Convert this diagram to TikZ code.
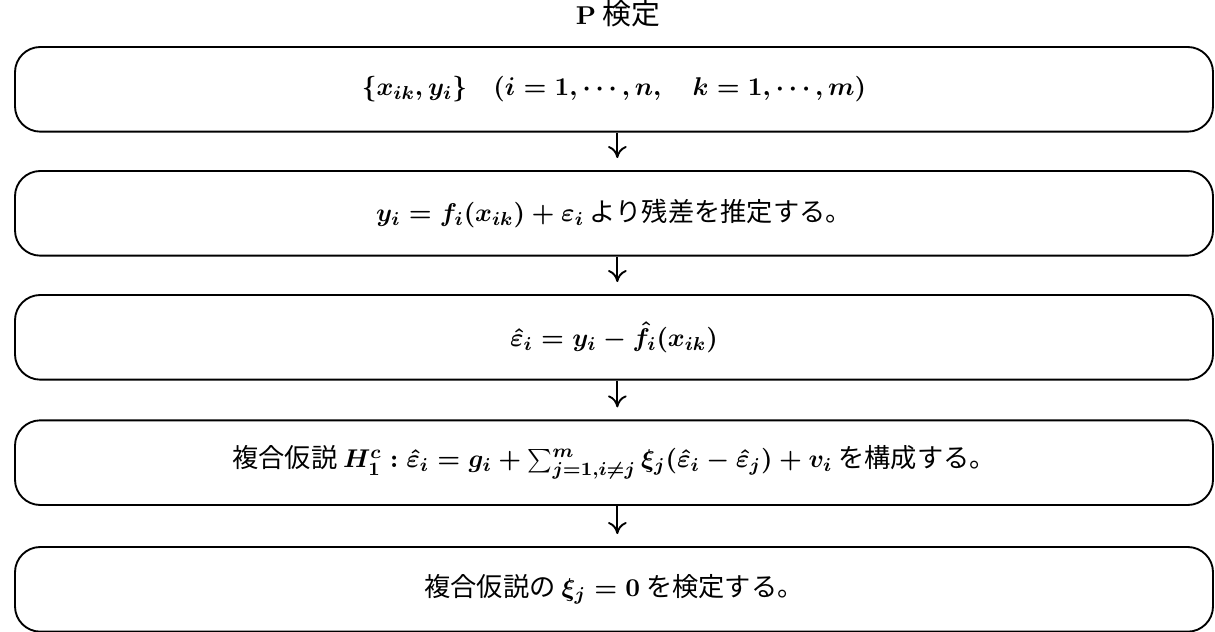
\documentclass[tikz,border=0pt]{standalone}
\usepackage{fontspec}
\usepackage{tikz}
\usetikzlibrary{arrows.meta,positioning}
\newfontfamily\jpfont[Scale=1.12]{Noto Sans CJK JP}
\DeclareMathSizes{10}{10.6}{8.3}{6.2}
\tikzset{
  pk/box/.style={
    draw=black,
    thick,
    rounded corners=0.38cm,
    fill=white,
    align=center,
    minimum width=17.97cm,
    minimum height=1.27cm,
    inner sep=0pt,
    font=\jpfont\boldmath
  },
  pk/arrow/.style={-{To[length=1.8mm,width=2.8mm]}, thick, shorten >=0.18cm},
  pk/title/.style={font=\jpfont\fontsize{11}{13}\selectfont, align=center}
}

\begin{document}
\begin{tikzpicture}[x=1cm,y=1cm]
  \useasboundingbox (0,0) rectangle (18.225,-9.48);
  \node[pk/title] (title) at (9.27,-0.2) {{\fontspec{Latin Modern Roman}\bfseries P} 検定};
  \node[pk/box] (b1) at (9.21,-1.34) {$\{x_{ik}, y_i\} \quad (i=1,\cdots,n, \quad k=1,\cdots,m)$};
  \node[pk/box] (b2) at (9.21,-3.20) {$y_i = f_i(x_{ik}) + \varepsilon_i$ より残差を推定する。};
  \node[pk/box] (b3) at (9.21,-5.06) {$\hat{\varepsilon}_i = y_i - \hat{f}_i(x_{ik})$};
  \node[pk/box] (b4) at (9.21,-6.94) {複合仮説 $H_1^c : \hat{\varepsilon}_i = g_i + \sum_{j=1,i\neq j}^{m} \xi_j(\hat{\varepsilon}_i - \hat{\varepsilon}_j) + v_i$ を構成する。};
  \node[pk/box] (b5) at (9.21,-8.84) {複合仮説の $\xi_j = 0$ を検定する。};
  \draw[pk/arrow] ([xshift=0.05cm]b1.south) -- ([xshift=0.05cm]b2.north);
  \draw[pk/arrow] ([xshift=0.05cm]b2.south) -- ([xshift=0.05cm]b3.north);
  \draw[pk/arrow] ([xshift=0.05cm]b3.south) -- ([xshift=0.05cm]b4.north);
  \draw[pk/arrow] ([xshift=0.05cm]b4.south) -- ([xshift=0.05cm]b5.north);
\end{tikzpicture}
\end{document}
